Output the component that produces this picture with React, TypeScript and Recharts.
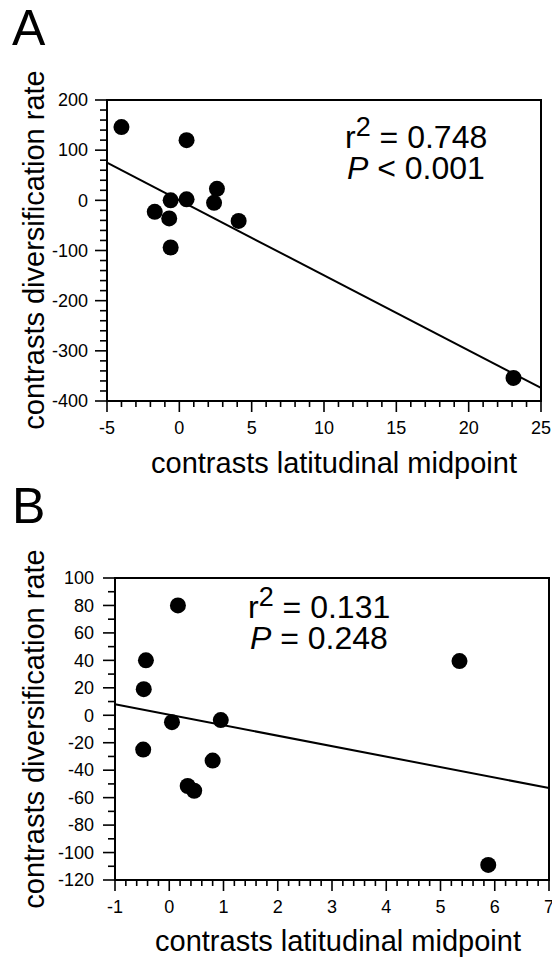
import React from "react";
import {
  ScatterChart,
  Scatter,
  XAxis,
  YAxis,
  ReferenceLine,
  ReferenceArea,
  Customized,
} from "recharts";

// ---------- Panel A data ----------
const aLatitude = [-4.0, 0.5, -0.6, 0.5, -1.7, -0.7, -0.6, 2.6, 2.4, 4.1, 23.1];
const aDiversification = [146, 120, 0, 2, -23, -36, -94, 23, -5, -41, -354];
const aFitX = [-5, 25];
const aFitY = [75, -374];
const aXMajor = [-5, 0, 5, 10, 15, 20, 25];
const aYMajor = [-400, -300, -200, -100, 0, 100, 200];
const aStats = ["0.748", "< 0.001"];

// ---------- Panel B data ----------
const bLatitude = [0.16, -0.43, -0.47, 0.05, 0.95, -0.48, 0.8, 0.34, 0.46, 5.35, 5.88];
const bDiversification = [80, 40, 19, -5, -3.5, -25, -33, -51.5, -55, 39.5, -109];
const bFitX = [-1, 7];
const bFitY = [8, -53];
const bXMajor = [-1, 0, 1, 2, 3, 4, 5, 6, 7];
const bYMajor = [-120, -100, -80, -60, -40, -20, 0, 20, 40, 60, 80, 100];
const bStats = ["0.131", "= 0.248"];

const xLabel = "contrasts latitudinal midpoint";
const yLabel = "contrasts diversification rate";

const FONT = "'Liberation Sans', Arial, Helvetica, sans-serif";

function withMinor(majors: number[], step: number): number[] {
  const out: number[] = [];
  const lo = majors[0];
  const hi = majors[majors.length - 1];
  const n = Math.round((hi - lo) / step);
  for (let i = 0; i <= n; i++) out.push(Math.round((lo + i * step) * 1000) / 1000);
  return out;
}

const isMajor = (v: number, majors: number[]) =>
  majors.some((m) => Math.abs(m - v) < 1e-6);

const XTick = (props: any) => {
  const { x, y, payload, majors, labelDy } = props;
  const major = isMajor(payload.value, majors);
  return (
    <g>
      <line x1={x} x2={x} y1={y} y2={y + (major ? 11 : 6)} stroke="#000" strokeWidth={1.6} />
      {major && (
        <text x={x} y={y + labelDy} textAnchor="middle" fontSize={18} fontFamily={FONT} fill="#000">
          {payload.value}
        </text>
      )}
    </g>
  );
};

const YTick = (props: any) => {
  const { x, y, payload, majors, labelDx } = props;
  const major = isMajor(payload.value, majors);
  return (
    <g>
      <line x1={x} x2={x - (major ? 12 : 7)} y1={y} y2={y} stroke="#000" strokeWidth={1.6} />
      {major && (
        <text x={x - labelDx} y={y} dy="0.35em" textAnchor="end" fontSize={18} fontFamily={FONT} fill="#000">
          {payload.value}
        </text>
      )}
    </g>
  );
};

type PanelProps = {
  letter: string;
  lat: number[];
  div: number[];
  fitX: number[];
  fitY: number[];
  xMajor: number[];
  yMajor: number[];
  xStep: number;
  yStep: number;
  width: number;
  height: number;
  margin: { top: number; right: number; bottom: number; left: number };
  statsX: number;
  statsY: number;
  stats: string[];
  yLabelCenter: number;
  xLabelCenter: number;
  xLabelY: number;
  titleY: number;
  yLabelDx: number;
};

const Panel = (p: PanelProps) => {
  const points = p.lat.map((x, i) => ({ x, y: p.div[i] }));
  const xTicks = withMinor(p.xMajor, p.xStep);
  const yTicks = withMinor(p.yMajor, p.yStep);
  const xDomain = [p.xMajor[0], p.xMajor[p.xMajor.length - 1]];
  const yDomain = [p.yMajor[0], p.yMajor[p.yMajor.length - 1]];
  return (
    <ScatterChart width={p.width} height={p.height} margin={p.margin}>
      <XAxis
        type="number"
        dataKey="x"
        domain={xDomain}
        ticks={xTicks}
        interval={0}
        height={1}
        tickSize={0}
        tickMargin={0}
        tickLine={false}
        axisLine={{ stroke: "#000", strokeWidth: 2 }}
        tick={<XTick majors={p.xMajor} labelDy={33} />}
        allowDataOverflow
      />
      <YAxis
        type="number"
        dataKey="y"
        domain={yDomain}
        ticks={yTicks}
        interval={0}
        width={1}
        tickSize={0}
        tickMargin={0}
        tickLine={false}
        axisLine={{ stroke: "#000", strokeWidth: 2 }}
        tick={<YTick majors={p.yMajor} labelDx={p.yLabelDx} />}
        allowDataOverflow
      />
      <ReferenceArea
        x1={xDomain[0]}
        x2={xDomain[1]}
        y1={yDomain[0]}
        y2={yDomain[1]}
        fill="none"
        fillOpacity={0}
        stroke="#000"
        strokeWidth={2}
      />
      <ReferenceLine
        segment={[
          { x: p.fitX[0], y: p.fitY[0] },
          { x: p.fitX[1], y: p.fitY[1] },
        ]}
        stroke="#000"
        strokeWidth={2}
        ifOverflow="visible"
      />
      <Scatter
        data={points}
        isAnimationActive={false}
        shape={(s: any) => <circle cx={s.cx} cy={s.cy} r={8} fill="#000" />}
      />
      <Customized
        component={() => (
          <g fontFamily={FONT} fill="#000">
            <text x={12} y={p.titleY} fontSize={50}>
              {p.letter}
            </text>
            <text
              x={44}
              y={p.yLabelCenter}
              fontSize={29}
              textAnchor="middle"
              transform={`rotate(-90 44 ${p.yLabelCenter})`}
            >
              {yLabel}
            </text>
            <text x={p.xLabelCenter} y={p.xLabelY} fontSize={29} textAnchor="middle">
              {xLabel}
            </text>
            <text x={p.statsX} y={p.statsY} fontSize={32}>
              r
              <tspan fontSize={27} dy={-12}>
                2
              </tspan>
              <tspan dy={12}> = {p.stats[0]}</tspan>
            </text>
            <text x={p.statsX + 2} y={p.statsY + 31} fontSize={32}>
              <tspan fontStyle="italic">P</tspan>
              <tspan> {p.stats[1]}</tspan>
            </text>
          </g>
        )}
      />
    </ScatterChart>
  );
};

export default function App() {
  return (
    <div style={{ position: "absolute", left: 0, top: 0, width: 552, height: 957, background: "#fff" }}>
      <div style={{ position: "absolute", left: 0, top: 0 }}>
        <Panel
          letter="A"
          lat={aLatitude}
          div={aDiversification}
          fitX={aFitX}
          fitY={aFitY}
          xMajor={aXMajor}
          yMajor={aYMajor}
          xStep={1}
          yStep={20}
          width={552}
          height={482}
          margin={{ top: 100, right: 11, bottom: 80, left: 106 }}
          statsX={345}
          statsY={148}
          stats={aStats}
          yLabelCenter={250}
          xLabelCenter={334}
          xLabelY={473}
          titleY={45}
          yLabelDx={19}
        />
      </div>
      <div style={{ position: "absolute", left: 0, top: 470 }}>
        <Panel
          letter="B"
          lat={bLatitude}
          div={bDiversification}
          fitX={bFitX}
          fitY={bFitY}
          xMajor={bXMajor}
          yMajor={bYMajor}
          xStep={0.2}
          yStep={10}
          width={552}
          height={487}
          margin={{ top: 108, right: 3, bottom: 76, left: 114 }}
          statsX={248}
          statsY={148}
          stats={bStats}
          yLabelCenter={259}
          xLabelCenter={338}
          xLabelY={481}
          titleY={53}
          yLabelDx={21}
        />
      </div>
    </div>
  );
}
